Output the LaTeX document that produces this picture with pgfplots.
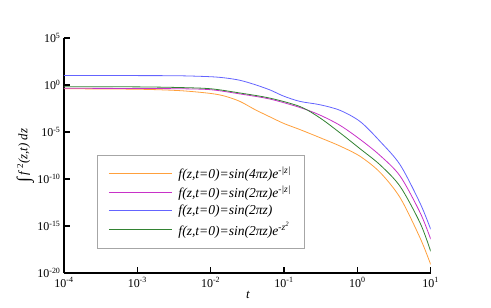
\documentclass[border=0pt]{standalone}
\usepackage{fontspec}
\setmainfont{Liberation Serif}
\usepackage{pgfplots}
\pgfplotsset{compat=1.18}
\definecolor{corange}{RGB}{255,160,60}
\definecolor{cpurple}{RGB}{200,50,200}
\definecolor{cblue}{RGB}{100,100,255}
\definecolor{cgreen}{RGB}{50,130,50}
\begin{document}
\begin{tikzpicture}
\useasboundingbox (0,0) rectangle (491bp,308bp);
\begin{axis}[
  at={(64bp,35bp)}, anchor=south west,
  scale only axis, width=366.7bp, height=235bp,
  xmode=log, ymode=log, log basis x=10, log basis y=10,
  xmin=1e-4, xmax=10, ymin=1e-20, ymax=1e5,
  axis lines*=left,
  axis line style={line width=1.3bp, black, -},
  tick align=inside,
  major tick length=6bp, minor tick length=3.5bp,
  every major tick/.style={line width=1.3bp, black},
  every minor tick/.style={line width=0.6bp, black},
  xtick={1e-4,1e-3,1e-2,1e-1,1,10},
  xticklabels={10\textsuperscript{-4},10\textsuperscript{-3},10\textsuperscript{-2},10\textsuperscript{-1},10\textsuperscript{0},10\textsuperscript{1}},
  ytick={1e-20,1e-15,1e-10,1e-5,1,1e5},
  yticklabels={10\textsuperscript{-20},10\textsuperscript{-15},10\textsuperscript{-10},10\textsuperscript{-5},10\textsuperscript{0},10\textsuperscript{5}},
  yminorticks=false,
  ticklabel style={font=\fontsize{12}{14}\selectfont},
  xticklabel style={yshift=-1bp},
  xlabel={\textit{t}},
  xlabel style={at={(axis description cs:0.502,-0.094)}, anchor=center, font=\fontsize{13}{15}\selectfont},
  ylabel={\raisebox{-2bp}{\fontsize{18}{18}\selectfont ∫}\,\textit{f}\textsuperscript{\,2}\textit{(z,t) dz}},
  ylabel style={at={(axis description cs:-0.105,0.5)}, anchor=center, font=\fontsize{13}{15}\selectfont},
  legend style={at={(axis description cs:0.09,0.502)}, anchor=north west,
    draw=gray!70, line width=0.8bp, inner xsep=11bp, inner ysep=9bp,
    row sep=2.2bp, column sep=4bp, font=\itshape\fontsize{13.6}{15}\selectfont,
    cells={anchor=west}},
  legend image code/.code={\draw[#1, line width=1.1bp] (0bp,0bp) -- (63bp,0bp);},
]
\addplot[corange, line width=0.8bp, smooth] coordinates {
(1e-4,0.398) (1e-3,0.355) (3.8e-3,0.251) (1e-2,0.126) (1.585e-2,6.31e-2) (2.512e-2,1.778e-2) (3.981e-2,2.512e-3) (6.457e-2,3.981e-4) (0.1,7.94e-5) (0.166,1.778e-5) (0.309,2.512e-6) (0.582,3.162e-7) (1.096,2.512e-8) (2.042,5.01e-10) (3.837,1e-12) (7.194,5.01e-17) (10,7.94e-20)};
\addlegendentry{f(z,t=0)=sin(4πz)e\textsuperscript{-|z|}}
\addplot[cpurple, line width=0.8bp, smooth] coordinates {
(1e-4,0.447) (1e-3,0.427) (3.8e-3,0.398) (1e-2,0.316) (2.512e-2,0.112) (6.457e-2,3.162e-2) (0.166,3.981e-3) (0.309,6.31e-4) (0.582,5.01e-5) (1.096,1.585e-6) (2.042,3.162e-8) (3.837,2.0e-10) (7.194,2.512e-14) (10,3.981e-17)};
\addlegendentry{f(z,t=0)=sin(2πz)e\textsuperscript{-|z|}}
\addplot[cblue, line width=0.8bp, smooth] coordinates {
(1e-4,10) (1e-3,10) (3.8e-3,9.55) (1e-2,7.59) (1.585e-2,5.62) (2.512e-2,3.162) (3.981e-2,1.122) (6.457e-2,0.295) (0.1,6.31e-2) (0.166,1.778e-2) (0.309,7.94e-3) (0.582,2.0e-3) (1.096,1.259e-4) (2.042,1e-6) (3.837,3.162e-9) (7.194,2.512e-13) (10,4.47e-16)};
\addlegendentry{f(z,t=0)=sin(2πz)}
\addplot[cgreen, line width=0.8bp, smooth] coordinates {
(1e-4,0.661) (1e-3,0.631) (3.8e-3,0.537) (1e-2,0.398) (2.512e-2,0.141) (6.457e-2,3.981e-2) (0.166,5.01e-3) (0.309,3.162e-4) (0.582,7.94e-6) (1.096,1.585e-7) (2.042,3.162e-9) (3.837,1.585e-11) (7.194,2.0e-15) (10,2.0e-18)};
\addlegendentry{f(z,t=0)=sin(2πz)e\textsuperscript{-z\textsuperscript{2}}}
\end{axis}
\end{tikzpicture}
\end{document}
